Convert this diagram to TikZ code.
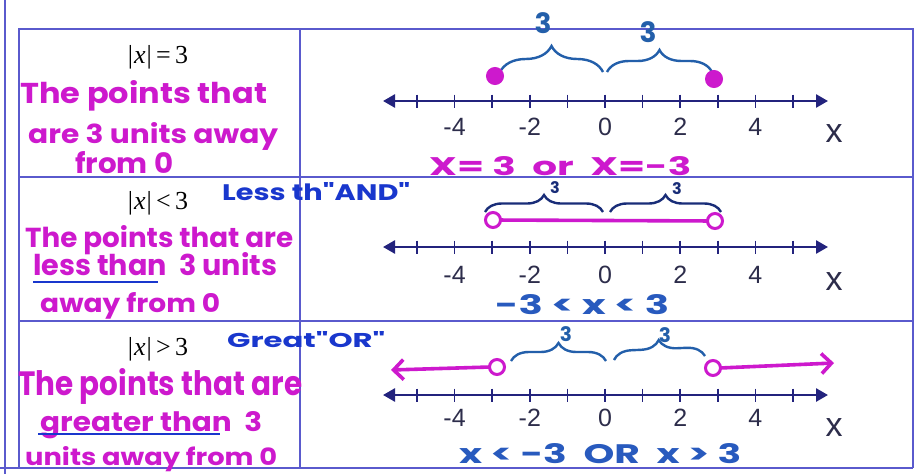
\documentclass[tikz,border=0pt]{standalone}
\usepackage{fontspec}
\usepackage{graphicx}
\usetikzlibrary{decorations.pathreplacing,arrows.meta}
\setmainfont{Liberation Serif}
\newfontfamily\hand{Poppins}
\newfontfamily\arial{Liberation Sans}
\definecolor{mag}{RGB}{205,25,205}
\definecolor{tblue}{RGB}{90,90,205}
\definecolor{navy}{RGB}{35,35,125}
\definecolor{bblue}{RGB}{35,95,170}
\definecolor{dblue}{RGB}{25,45,120}
\definecolor{wblue}{RGB}{25,55,205}
\definecolor{cblue}{RGB}{40,90,190}
\definecolor{lbl}{RGB}{45,45,75}
\newcommand\fitwh[3]{\resizebox{#1pt}{#2pt}{#3}}
% #1 axis y, #2 label y, #3 x-label y, #4 name prefix
\newcommand\nline[4]{%
  \draw[axis] (383,#1) coordinate (#4L) -- (828,#1) coordinate (#4R);
  \foreach \i in {-5,...,5} \draw[tickmk] ({605+37.6*(\i)},#1-6.5) -- ({605+37.6*(\i)},#1+6.5);
  \foreach \i in {-4,-2,0,2,4} \node[numlbl] (#4n\i) at ({605+37.6*(\i)},#2) {\i};
  \node[xlbl] (#4x) at (834,#3) {x};
}
\tikzset{
  tbl/.style={draw=tblue, line width=1.6pt},
  axis/.style={draw=navy, line width=2.6pt, {Triangle[length=12pt,width=13pt]}-{Triangle[length=12pt,width=13pt]}},
  tickmk/.style={draw=navy, line width=1.6pt},
  numlbl/.style={font=\arial\fontsize{25}{27}\selectfont, text=lbl, inner sep=0pt},
  xlbl/.style={font=\arial\fontsize{34}{36}\selectfont, text=lbl, inner sep=0pt},
  brc/.style={line width=2.4pt, decorate, decoration={brace, amplitude=#1}},
  brc/.default=20,
  hw/.style={text=mag, inner sep=0pt, anchor=base west, font=\hand\bfseries},
  hwb/.style={text=wblue, inner sep=0pt, anchor=base west, font=\hand\bfseries},
  eq/.style={inner sep=0pt, font=\fontsize{26}{30}\selectfont},
  blbl/.style={inner sep=0pt, font=\hand\bfseries\fontsize{#1}{#1}\selectfont},
  fdot/.style={fill=mag, draw=mag, line width=1pt},
  odot/.style={draw=mag, line width=3pt, fill=white},
  ray/.style={draw=mag, line width=3.6pt},
  rayarr/.style={ray, -{Straight Barb[length=10pt,width=20pt]}},
  uline/.style={draw=wblue, line width=2.4pt},
}
\begin{document}
\begin{tikzpicture}[x=1pt,y=-1pt]
\useasboundingbox (0,0) rectangle (923,474);
\fill[white] (0,0) rectangle (923,474);
% table
\draw[tbl] (5,0) -- (5,474);
\draw[tbl] (19,468) -- (19,29) -- (913,29) -- (913,468);
\draw[tbl] (0,468) -- (913,468);
\draw[tbl] (300,29) -- (300,468);
\draw[tbl] (19,177) -- (913,177);
\draw[tbl] (19,321) -- (913,321);

% ---------- row 1 ----------
\node[eq] (e1) at (158,57) {|\kern1pt\textit{x}\kern1pt|\,=\,3};
\node[hw] (t1a) at (20,103) {\fitwh{247}{23}{The points that}};
\node[hw] (t1b) at (28,143) {\fitwh{250}{21}{are 3 units away}};
\node[hw] (t1c) at (75,173) {\fitwh{98}{22}{from 0}};
\nline{101}{127}{134}{a}
\draw[brc=26, draw=bblue] (500,72) -- (603,72);
\draw[brc=22, draw=bblue] (607,72) -- (712,72);
\node[blbl=28, text=bblue] (a3l) at (543,23) {3};
\node[blbl=28, text=bblue] (a3r) at (648,32) {3};
\fill[fdot] (495,76) circle (8.5);
\fill[fdot] (714,79) circle (8.5);
\node[hw] (c1) at (429,175) {\fitwh{262}{19}{X= 3\ \ or\ \ X=-3}};

% ---------- row 2 ----------
\node[eq] (e2) at (158,203) {|\kern1pt\textit{x}\kern1pt|\,<\,3};
\node[hwb] (n2) at (222,200) {\fitwh{188}{18}{Less th"AND"}};
\node[hw] (t2a) at (25,247) {\fitwh{268}{22}{The points that are}};
\node[hw] (t2b) at (33,275) {\fitwh{244}{23}{less than\ \ 3 units}};
\draw[uline] (33,282) -- (158,282);
\node[hw] (t2c) at (40,312) {\fitwh{180}{20}{away from 0}};
\nline{247}{275}{282}{b}
\draw[brc=17, draw=dblue] (485,212) -- (603,212);
\draw[brc=17, draw=dblue] (610,212) -- (721,212);
\node[blbl=16, text=dblue] (b3l) at (555,188) {3};
\node[blbl=16, text=dblue] (b3r) at (677,189) {3};
\coordinate (bo1) at (493,220);
\coordinate (bo2) at (715,221);
\draw[ray] (bo1) -- (bo2);
\draw[odot] (bo1) circle (7.5);
\draw[odot] (bo2) circle (7.5);
\node[hwb, text=cblue] (c2) at (495,314) {\fitwh{174}{20}{-3 < x < 3}};

% ---------- row 3 ----------
\node[eq] (e3) at (158,349) {|\kern1pt\textit{x}\kern1pt|\,>\,3};
\node[hwb] (n3) at (227,347) {\fitwh{158}{16}{Great"OR"}};
\node[hw] (t3a) at (18,395) {\fitwh{284}{27}{The points that are}};
\node[hw] (t3b) at (40,431) {\fitwh{222}{20}{greater than\ \ 3}};
\draw[uline] (38,434) -- (220,434);
\node[hw] (t3c) at (25,465) {\fitwh{252}{19}{units away from 0}};
\nline{395}{418}{428}{c}
\draw[brc=18, draw=bblue] (511,361) -- (606,361);
\draw[brc=18, draw=bblue] (614,360) -- (705,356);
\node[blbl=20, text=bblue] (c3l) at (566,334) {3};
\node[blbl=20, text=bblue] (c3r) at (665,335) {3};
\coordinate (co1) at (497,367);
\coordinate (co2) at (713,368);
\coordinate (cl) at (391,370);
\coordinate (cr) at (834,363);
\draw[rayarr] ([xshift=-7pt]co1) -- (cl);
\draw[rayarr] ([xshift=7pt]co2) -- (cr);
\draw[odot] (co1) circle (7.5);
\draw[odot] (co2) circle (7.5);
\node[hwb, text=cblue] (c3) at (459,463) {\fitwh{282}{20}{x < -3\ \ OR\ \ x > 3}};
\end{tikzpicture}
\end{document}
